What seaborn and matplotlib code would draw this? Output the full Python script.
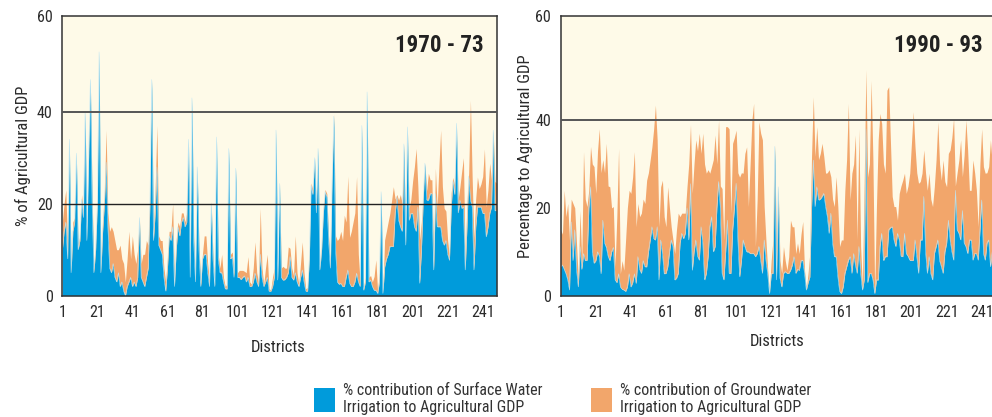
import numpy as np
import pandas as pd
import matplotlib
matplotlib.use("Agg")
import matplotlib.pyplot as plt
import seaborn as sns
from matplotlib.patches import Patch
from matplotlib import font_manager

# ---------------- data ----------------
districts = list(range(1, 250))
xticks = [1, 21, 41, 61, 81, 101, 121, 141, 161, 181, 201, 221, 241]

surface_1970 = [
    10, 14, 16, 8, 34, 5, 14, 16, 31, 10,
    12, 21, 17, 40, 12, 30, 47, 20, 5, 10,
    20, 53, 5, 14, 20, 29, 15, 6, 5, 7,
    4, 3, 5, 2, 3, 1, 0, 2, 3, 4,
    2, 3, 2, 4, 17, 4, 3, 2, 4, 6,
    20, 47, 12, 18, 28, 11, 10, 9, 4, 1,
    6, 13, 12, 15, 2, 10, 15, 13, 16, 17,
    15, 16, 34, 4, 43, 12, 3, 28, 10, 2,
    8, 9, 9, 5, 2, 20, 8, 2, 34.5, 8,
    5, 5, 3, 1.5, 1.5, 32, 8, 8.5, 4, 27.7,
    4, 4, 3.5, 4, 4.3, 3, 4, 2, 2, 3,
    4.9, 3, 2, 9, 4, 2, 3, 4, 1, 1,
    2, 4, 36, 3.4, 24.4, 4, 3.4, 3.5, 4, 5,
    8.5, 4, 3.4, 5, 3, 2, 4, 5.6, 3, 1,
    1, 8, 24, 22, 30, 18, 32, 5.6, 10, 18,
    22.6, 21.5, 12, 6, 25, 39, 10, 3, 2.5, 2.7,
    2, 2, 4, 5.6, 2.7, 2, 2, 3, 4.9, 3,
    2, 37, 1.2, 3, 44.3, 3, 3.4, 2, 1.2, 1.2,
    0.5, 3, 22.6, 0.5, 6.3, 8, 9, 10.7, 10.7, 10.7,
    18, 21.5, 16.4, 15, 14, 33, 11, 36.7, 16.4, 17.9,
    17.9, 15, 14, 19.3, 2.7, 10, 20.8, 28.8, 20.8, 20.8,
    22.2, 22.2, 5.6, 22.2, 15, 15, 15, 12, 11, 12,
    9, 7.7, 19.3, 25, 22, 37.5, 18, 20.8, 19, 19.3,
    5.6, 15, 26, 20.8, 19.3, 5.6, 15, 19.3, 19.3, 19.3,
    17.9, 17.9, 12.8, 15, 17.9, 19.3, 36, 18.5, 18.5,
]
ground_1970 = [
    6, 6, 7, 3, 0, 1, 2, 1, 0, 1,
    1, 1, 1, 0, 1, 1, 0, 2, 1, 1,
    1, 0, 1, 2, 2, 7, 3, 8, 10, 7,
    8, 7, 5, 9, 5, 6, 3, 6, 11, 4,
    11, 6, 5, 6, 0, 3, 6, 7, 8, 5,
    2, 0, 2, 5, 9, 2, 2, 3, 2, 2,
    2, 1, 2, 5, 1, 2, 1, 2, 2, 1,
    1, 2, 0, 1, 0, 1, 1, 0, 1, 1,
    1, 4, 4, 2, 1, 0.5, 1, 0.5, 0, 1,
    1, 4, 1, 0.5, 1, 0, 1, 1, 1, 0,
    1, 1.5, 2, 1.5, 1, 2, 4.5, 1, 0.5, 3,
    6.8, 2, 1, 10, 2, 0.5, 3, 5, 0.5, 0.3,
    2, 2, 0, 1, 0, 2, 3, 2.5, 2, 5.6,
    1.8, 2, 1, 8, 2, 0.5, 3, 6.1, 2, 0.5,
    0.8, 1, 0.5, 1, 0, 1, 0, 0.5, 1, 1,
    0.5, 0.7, 1, 1, 1, 0.5, 3, 9, 10, 11.3,
    10, 15.5, 12, 20.4, 10, 12, 14, 15, 21, 6,
    1, 0, 0.5, 1, 0, 1, 1, 1, 3, 6.6,
    0.5, 2, 0, 0.3, 5.8, 6, 7, 7.2, 10, 13,
    3, 0.5, 4.4, 7, 6, 0, 1, 0, 2.6, 3,
    7, 13, 18, 4.4, 9.4, 6, 1, 0, 2, 5.8,
    3, 3, 3, 5.5, 4.3, 13, 21, 11.7, 8, 6.4,
    3, 1, 3, 0.7, 2, 0, 3, 2.9, 8, 10.7,
    2, 5, 0.6, 21.7, 6.3, 6.5, 6, 6.5, 4, 5,
    8, 14, 6.5, 8, 10.9, 5.8, 0, 6.3, 6,
]
surface_1990 = [
    6.6, 7, 6, 5, 3.6, 1.3, 16.8, 8, 15, 6,
    2, 11.2, 6, 9.6, 8, 8.1, 20, 24.8, 10, 7.4,
    8, 10, 9, 5, 17.2, 12, 11, 9, 8, 10,
    11, 3.6, 3, 5, 2, 1.5, 1.3, 1, 2, 5,
    2, 3, 5, 2.8, 8.9, 6, 5.1, 8, 6.6, 6.6,
    10, 12.7, 15.7, 13, 12.7, 15.7, 3.6, 12.7, 9.6, 5,
    5.1, 6.6, 10, 12.7, 11.2, 3.6, 4, 5.1, 12, 14.2,
    13, 14.2, 20, 12.7, 25.5, 5.8, 10, 12.7, 9, 8.1,
    15.7, 12, 3.6, 5.1, 8.9, 15.7, 18, 10, 11.2, 20,
    26, 20, 5.1, 3.6, 10, 17.2, 5.1, 5.1, 15, 20,
    25.6, 12.7, 4.3, 8, 12.7, 11.2, 10, 10, 9.6, 9.6,
    9.6, 8.9, 9.6, 11.2, 8, 5.1, 12.7, 8.1, 5, 0.5,
    5, 5.1, 34, 3.6, 24.8, 4, 2, 5.1, 5.5, 5.1,
    5.1, 5.8, 7, 8.9, 5.1, 6, 5.8, 8, 8.1, 5.1,
    1.3, 3, 4.3, 20.3, 30.9, 20.3, 24.8, 21.8, 22, 22.6,
    23.3, 20.3, 18, 14.2, 18.8, 12, 8.9, 8.9, 4.3, 1,
    0.5, 2, 5.1, 6.6, 8.1, 8.9, 5.1, 9.6, 7, 5.1,
    11.2, 5.1, 1.3, 3.6, 38, 3, 5, 5.1, 3.6, 0.5,
    3.6, 3.6, 11.2, 14.2, 8, 8.9, 8.9, 15, 15.5, 15.7,
    12.7, 11.2, 14.2, 12.7, 9, 8.9, 14.2, 9.6, 9, 8.1,
    8, 8.1, 12.7, 9, 5.1, 12.7, 12.7, 22.6, 10, 5.1,
    8.9, 5, 3.6, 9.6, 11.2, 12.7, 8, 6.6, 5.1, 10,
    12, 17.2, 12.7, 10, 8.1, 24, 15, 14.2, 12.7, 19.4,
    12, 11.2, 9.6, 12.7, 12.7, 8.1, 9.6, 9.6, 8.1, 15,
    21.8, 9.6, 8.1, 12, 12.7, 6.6, 10, 8, 9,
]
ground_1990 = [
    8.4, 7, 18, 13, 17.4, 11.4, 5.2, 13, 5, 6,
    2, 8.2, 2, 23.2, 14, 12.2, 4, 9.2, 20, 22,
    15.3, 23, 29, 23, 13.8, 16, 23.7, 16, 16.8, 10,
    9.3, 3, 15, 28.5, 3, 6.5, 4.5, 11.7, 18, 19,
    21.3, 24, 27.8, 12.9, 12.1, 12, 13.7, 14, 14.4, 19.7,
    18, 18.2, 18.2, 25, 30.7, 19.8, 12.1, 12.1, 16.7, 13,
    10.6, 18.2, 10, 3, 1.5, 6, 11, 13.7, 6, 4.6,
    5.8, 4.6, 4.8, 17.3, 13.5, 17.5, 20, 22.8, 24, 28.9,
    16.7, 25, 26.4, 22.8, 19.8, 12.2, 11.4, 21, 25.4, 10,
    14, 5, 19.3, 9.1, 28.5, 21.3, 32.9, 13.7, 19.7, 16,
    12.1, 15.3, 22.7, 20, 15.2, 21.2, 23.9, 10.3, 20.4, 30.4,
    34.2, 2.3, 12.2, 28.4, 29, 30.4, 7.6, 4.6, 1, 0.3,
    3, 7.6, 0.4, 7.6, 0.2, 4, 3.1, 6.1, 2.5, 0.7,
    3.8, 11.4, 8.7, 6.8, 4.5, 6, 3.8, 6, 8.8, 0.7,
    0.2, 2, 5.3, 11.4, 14.4, 11.4, 13.7, 9.2, 10.4, 12.1,
    8.4, 7.6, 10, 14.5, 8.3, 10, 11.4, 18.2, 16, 10.2,
    12.2, 10.7, 18.9, 24.4, 35.7, 12.9, 22.8, 20.4, 29.6, 7.6,
    26.8, 6.1, 0.7, 21.4, 13.5, 24, 25, 43.9, 27.3, 0.3,
    16.4, 31.9, 30.3, 25, 22, 19, 37.9, 32.6, 19.5, 6.9,
    7.6, 9.1, 3, 10.6, 16, 17.4, 13.7, 13.7, 16, 19.8,
    27, 33.8, 21.2, 19, 20.5, 13.3, 15.2, 10.6, 18, 18.9,
    19, 17, 16.7, 15.2, 19.7, 26.9, 22, 19.7, 25.8, 16,
    12.8, 15.2, 20.5, 26, 32.3, 1, 13, 16.7, 22.8, 7.7,
    20, 28.8, 23.6, 11.3, 11.3, 22.8, 18.4, 14.4, 7.6, 15,
    16.2, 19.8, 19.8, 16, 16.7, 28.9, 20, 20, 21,
]

panel_titles = ["1970 - 73", "1990 - 93"]
y_labels = ["% of Agricultural GDP", "Percentage to Agricultural GDP"]
x_label = "Districts"
legend_labels = ["% contribution of Surface Water\nIrrigation to Agricultural GDP",
                 "% contribution of Groundwater\nIrrigation to Agricultural GDP"]

# ---------------- style ----------------
BLUE = "#009BDB"
ORANGE = "#F2A66B"
BG = "#FEFAE8"
INK = "#2b2b2b"

sns.set_theme(style="white")
available = {f.name for f in font_manager.fontManager.ttflist}
narrow = None
for cand in ["Liberation Sans Narrow", "Roboto Condensed", "Open Sans Condensed"]:
    if cand in available:
        narrow = cand
        break
if narrow:
    FONT = [narrow, "DejaVu Sans"]
    scale = 1.0
else:
    FONT = ["Roboto", "DejaVu Sans"]
    scale = 0.86
plt.rcParams["font.family"] = FONT
plt.rcParams["text.color"] = INK
plt.rcParams["axes.labelcolor"] = INK
plt.rcParams["xtick.color"] = INK
plt.rcParams["ytick.color"] = INK

W, H = 992, 417
fig = plt.figure(figsize=(W / 100, H / 100), dpi=100)

def frac_rect(x0, x1, ytop, ybot):
    return [x0 / W, 1 - ybot / H, (x1 - x0) / W, (ybot - ytop) / H]

axes_specs = [
    dict(rect=frac_rect(62.3, 496.7, 16, 295.7), ytop=60.8, grid=[20, 40],
         yticks=[0, 20, 40, 60.8], xlabel_y=-0.158, ylab_x=-0.071),
    dict(rect=frac_rect(560.7, 995.7, 16, 295.7), ytop=63.7, grid=[40],
         yticks=[0, 20, 40, 63.7], xlabel_y=-0.136, ylab_x=-0.064),
]
data = [
    pd.DataFrame({"district": districts, "surface": surface_1970, "ground": ground_1970}),
    pd.DataFrame({"district": districts, "surface": surface_1990, "ground": ground_1990}),
]

tick_fs = 11.5 * scale
lab_fs = 12 * scale
title_fs = 16.5 * scale
leg_fs = 11.5 * scale

for i, (spec, df) in enumerate(zip(axes_specs, data)):
    ax = fig.add_axes(spec["rect"])
    ax.set_facecolor(BG)
    ax.stackplot(df["district"], df["surface"], df["ground"],
                 colors=[BLUE, ORANGE], linewidth=0, zorder=2)
    sns.lineplot(x=df["district"], y=df["surface"], ax=ax, color="#bfe6f5",
                 linewidth=0.35, zorder=2.5, legend=False)
    for g in spec["grid"]:
        ax.axhline(g, color="#555555" if g == 40 else "#222222",
                   linewidth=1.4 if g == 40 else 1.0, zorder=3)
    ax.set_xlim(1, 249)
    ax.set_ylim(0, spec["ytop"])
    ax.set_xticks(xticks)
    ax.set_xticklabels([str(t) for t in xticks], fontsize=tick_fs)
    ax.set_yticks(spec["yticks"])
    ax.set_yticklabels(["0", "20", "40", "60"], fontsize=tick_fs)
    ax.tick_params(axis="x", direction="out", length=4, width=1, pad=3, color=INK)
    ax.tick_params(axis="y", length=0, pad=7)
    for s in ax.spines.values():
        s.set_color("#333333")
        s.set_linewidth(1.1)
        s.set_visible(True)
    ax.set_xlabel(x_label, fontsize=lab_fs)
    ax.xaxis.set_label_coords(0.497, spec["xlabel_y"])
    ax.set_ylabel(y_labels[i], fontsize=lab_fs)
    ax.yaxis.set_label_coords(spec["ylab_x"], 0.5)
    ax.text(0.969, 0.895, panel_titles[i], transform=ax.transAxes,
            ha="right", va="center", fontsize=title_fs, fontweight="bold",
            color="#222222")

handles = [Patch(facecolor=BLUE, edgecolor="none"), Patch(facecolor=ORANGE, edgecolor="none")]
fig.legend(handles, legend_labels, loc="upper left", ncol=2,
           bbox_to_anchor=(314 / W, 1 - 383 / H), frameon=False,
           fontsize=leg_fs, handlelength=21 / (leg_fs * 1.389),
           handleheight=30 / (leg_fs * 1.389), handletextpad=0.5,
           columnspacing=(592 - 543) / (leg_fs * 1.389), borderpad=0,
           borderaxespad=0, labelspacing=0, labelcolor="#333333")

fig.savefig("out.png", dpi=100)
